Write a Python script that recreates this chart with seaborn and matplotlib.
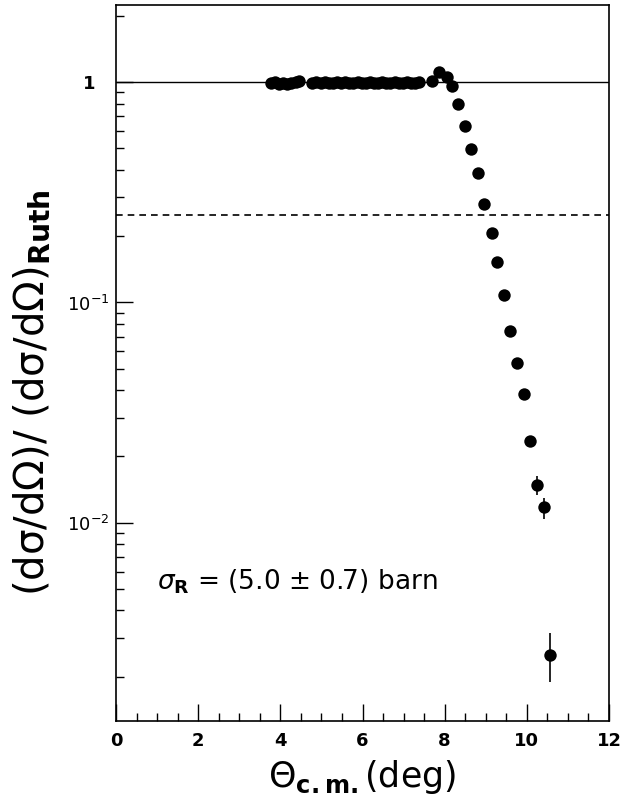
import numpy as np
import pandas as pd
import matplotlib
matplotlib.use("Agg")
import matplotlib.pyplot as plt
import matplotlib.transforms as mtransforms
import seaborn as sns
from matplotlib.ticker import LogLocator, FixedLocator, NullFormatter, MultipleLocator

# ---- data ----
theta = [3.77, 3.87, 3.97, 4.07, 4.17, 4.27, 4.37, 4.46,
         4.78, 4.88, 4.98, 5.08, 5.18, 5.28, 5.38, 5.48, 5.58, 5.68,
         5.78, 5.88, 5.98, 6.08, 6.18, 6.28, 6.38, 6.48, 6.58, 6.68,
         6.78, 6.88, 6.98, 7.08, 7.18, 7.28, 7.37,
         7.68, 7.85, 8.05, 8.18, 8.33, 8.49, 8.65, 8.80, 8.96, 9.14,
         9.28, 9.44, 9.60, 9.76, 9.92, 10.08, 10.25, 10.41, 10.56]
ratio = [0.99, 1.00, 0.98, 0.99, 0.98, 0.99, 1.00, 1.01,
         0.99, 1.00, 0.99, 1.00, 0.99, 0.99, 1.00, 0.99, 1.00, 0.99,
         0.99, 1.00, 0.99, 0.99, 1.00, 0.99, 0.99, 1.00, 0.99, 0.99,
         1.00, 0.99, 0.99, 1.00, 0.99, 0.99, 1.00,
         1.01, 1.11, 1.057, 0.959, 0.80, 0.632, 0.495, 0.385, 0.279, 0.206,
         0.153, 0.108, 0.0745, 0.053, 0.0385, 0.0235, 0.0149, 0.01178, 0.00252]
err_lo = [0.0] * 51 + [0.0015, 0.00135, 0.00063]
err_hi = [0.0] * 51 + [0.0014, 0.0012, 0.00065]

ref_solid = 1.0
ref_dashed = 0.25
sigma_text = r"$\sigma_{\mathbf{R}}$ = (5.0 $\pm$ 0.7) barn"
xticks = [0, 2, 4, 6, 8, 10, 12]
yticks = [0.01, 0.1, 1]
ytick_labels = [r"$\mathregular{10^{-2}}$", r"$\mathregular{10^{-1}}$", "1"]

df = pd.DataFrame({"theta": theta, "ratio": ratio})

sns.set_style("ticks")
plt.rcParams["font.family"] = ["DejaVu Sans"]
plt.rcParams["mathtext.fontset"] = "dejavusans"
for key in ["text.color", "axes.labelcolor", "xtick.color", "ytick.color", "axes.edgecolor"]:
    plt.rcParams[key] = "black"

fig = plt.figure(figsize=(6.21, 8.02), dpi=100)
ax = fig.add_axes([116 / 621, 1 - 721 / 802, (609 - 116) / 621, (721 - 5) / 802])

ax.set_yscale("log")
ax.set_xlim(0, 12)
ax.set_ylim(0.00126, 2.24)

ax.axhline(ref_solid, color="black", lw=1.0, zorder=1)
ax.axhline(ref_dashed, color="black", lw=1.2, ls=(0, (4, 3)), zorder=1)

ax.errorbar(theta, ratio, yerr=[err_lo, err_hi], fmt="none", ecolor="black",
            elinewidth=1.2, capsize=0, zorder=2)
sns.scatterplot(data=df, x="theta", y="ratio", ax=ax, color="black", s=80,
                edgecolor="black", linewidth=0, zorder=3)

ax.set_xlabel("")
ax.set_ylabel("")

# ticks
ax.xaxis.set_major_locator(FixedLocator(xticks))
ax.xaxis.set_minor_locator(MultipleLocator(0.5))
ax.set_xticklabels([str(t) for t in xticks])
ax.yaxis.set_major_locator(FixedLocator(yticks))
ax.set_yticklabels(ytick_labels)
ax.yaxis.set_minor_locator(LogLocator(base=10, subs=np.arange(2, 10)))
ax.yaxis.set_minor_formatter(NullFormatter())

ax.tick_params(axis="both", which="major", direction="in", length=12, width=1,
               labelsize=13, top=False, right=False)
ax.tick_params(axis="both", which="minor", direction="in", length=6, width=1,
               top=False, right=False)
ax.tick_params(axis="x", which="major", pad=8)
ax.tick_params(axis="y", which="major", pad=5)
for lab in ax.get_xticklabels():
    lab.set_fontweight("bold")
one_label = ax.get_yticklabels()[-1]
one_label.set_fontweight("bold")
one_label.set_transform(one_label.get_transform() +
                        mtransforms.ScaledTranslation(-10 / 72, 0, fig.dpi_scale_trans))

for sp in ax.spines.values():
    sp.set_visible(True)
    sp.set_linewidth(1.2)

ax.text(0.083, 0.195, sigma_text, transform=ax.transAxes,
        fontsize=19, ha="left", va="center")

fig.text(362.5 / 621, 1 - 777 / 802, r"$\Theta_{\mathbf{c.m.}}$(deg)",
         fontsize=25, ha="center", va="center")
fig.text(32 / 621, 1 - 393 / 802,
         r"(dσ/dΩ)/ (dσ/dΩ)$_{\mathbf{Ruth}}$",
         fontsize=29, ha="center", va="center", rotation=90)

fig.savefig("out.png", dpi=100, facecolor="white")
